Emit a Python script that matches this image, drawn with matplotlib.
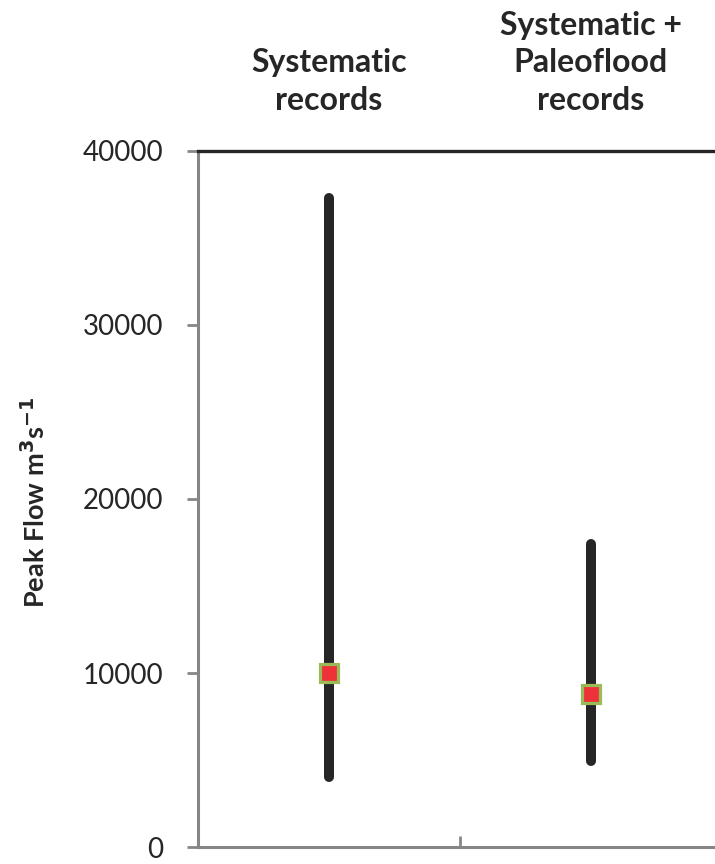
import matplotlib
matplotlib.use("Agg")
import matplotlib.pyplot as plt
from matplotlib.ticker import FixedLocator

categories = ["Systematic\nrecords", "Systematic +\nPaleoflood\nrecords"]
lower = [4000, 4950]
upper = [37300, 17400]
estimate = [10000, 8800]
yticks = [0, 10000, 20000, 30000, 40000]

plt.rcParams['font.family'] = ['Lato', 'DejaVu Sans']

fig = plt.figure(figsize=(7.15, 8.64), dpi=100)
ax = fig.add_axes([198/715, (864-847)/864, (715-198)/715, (847-151)/864])

x = list(range(len(categories)))
for xi, lo, hi in zip(x, lower, upper):
    ax.vlines(xi, lo, hi, colors='#262626', linewidth=7.2, capstyle='round', zorder=2)
ax.plot(x, estimate, linestyle='none', marker='s', markersize=12.5,
        markerfacecolor='#EE3338', markeredgecolor='#9BBB59', markeredgewidth=2.3, zorder=3)

ax.set_xlim(-0.5, 1.475)
ax.set_ylim(0, 40000)
ax.set_yticks(yticks)
ax.set_yticklabels([str(v) for v in yticks])
ax.xaxis.set_major_locator(FixedLocator([0.5]))
ax.set_xticklabels([])
ax.tick_params(axis='x', direction='in', length=8, width=2, color='#868686')
ax.tick_params(axis='y', direction='out', length=8, width=2, color='#868686',
               labelsize=20, labelcolor='#262626', pad=17)

for s in ['left', 'bottom']:
    ax.spines[s].set_color('#868686')
    ax.spines[s].set_linewidth(2.2)
ax.spines['right'].set_visible(False)
ax.spines['top'].set_color('#262626')
ax.spines['top'].set_linewidth(2.4)

for xi, lab in zip(x, categories):
    ax.text(xi, 1 + 41/696, lab, transform=ax.get_xaxis_transform(), ha='center', va='baseline',
            fontsize=23, fontweight='bold', color='#262626', linespacing=1.36)

fig.text(35/715, 1 - 502/864, r'Peak Flow m$^{\mathbf{3}}$s$^{\mathbf{-1}}$', rotation=90,
         ha='center', va='center', fontsize=19.5, fontweight='bold', color='#262626')

fig.savefig('out.png', dpi=100)
